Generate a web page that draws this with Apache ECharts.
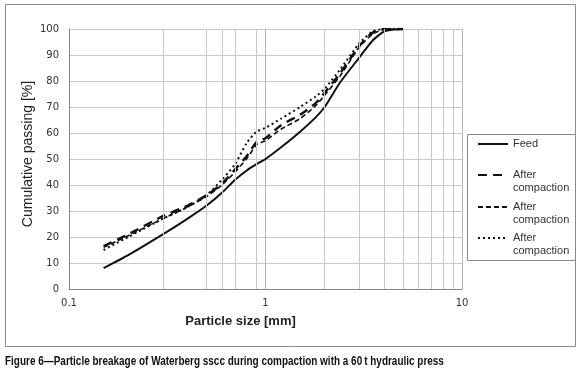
<!DOCTYPE html>
<html>
<head>
<meta charset="utf-8">
<script src="https://cdn.jsdelivr.net/npm/echarts@6/dist/echarts.min.js"></script>
<style>
    html, body { margin: 0; padding: 0; background: #fff; }
    #chart { width: 580px; height: 379px; }
</style>
</head>
<body>
<div id="chart"></div>
<script>
// particle size [mm]
const sizes = [0.15, 0.2, 0.3, 0.4, 0.5, 0.6, 0.7, 0.8, 0.9, 1, 1.2, 1.5, 1.8, 2, 2.4, 3, 3.5, 4, 4.5, 5];
// cumulative passing [%]
const feed = [8, 13, 21, 27, 32, 37, 42, 45.5, 48, 50, 54.5, 60.5, 66, 70, 79.5, 89, 95.5, 99, 99.8, 100];
const afterLong = [16.5, 21, 28, 32, 36, 40.5, 46, 51, 56.5, 58, 63, 67, 71.5, 75.5, 83, 93.5, 98.5, 100, 100, 100];
const afterShort = [16, 20.5, 27, 31.5, 35.5, 40, 45, 50, 55.5, 57, 61.5, 65.5, 70.5, 74.5, 82, 93, 98, 99.8, 100, 100];
const afterDot = [15, 20, 27, 31.5, 36, 42, 48, 56, 60.5, 62, 65.5, 70, 74, 77, 84.5, 94.5, 99, 100, 100, 100];

const minorGrid = [0.3, 0.5, 0.6, 0.7, 0.9, 2, 3, 4, 5, 6, 7, 8, 9];
const yTicks = { min: 0, max: 100, step: 10 };

const names = ['Feed', 'After compaction 1', 'After compaction 2', 'After compaction 3'];
const legendTops = [137, 155.5, 187.5, 218.5];

const caption = 'Figure 6\u2014Particle breakage of Waterberg sscc during compaction with a 60\u2009t hydraulic press';

const pairs = arr => sizes.map((s, i) => [s, arr[i]]);

const chart = echarts.init(document.getElementById('chart'));

const lineSeries = (name, values, width, dash) => ({
    name: name,
    type: 'line',
    data: pairs(values),
    symbol: 'none',
    smooth: 0.2,
    z: 3,
    itemStyle: { color: '#111' },
    lineStyle: { color: '#111', width: width, type: dash }
});

// one legend per entry so the two-line labels sit like the original box
const legends = names.map((n, i) => ({
    data: [n],
    left: 477,
    top: legendTops[i],
    orient: 'vertical',
    padding: 0,
    itemWidth: 30,
    itemHeight: 14,
    itemGap: 4,
    selectedMode: false,
    itemStyle: { opacity: 0 },
    formatter: name => (name === 'Feed' ? 'Feed' : '\nAfter\ncompaction'),
    textStyle: {
        fontFamily: 'Liberation Sans, Arial, sans-serif',
        fontSize: 11,
        color: '#333',
        lineHeight: i === 0 ? 14 : 13
    }
}));

chart.setOption({
    animation: false,
    legend: legends,
    graphic: [
        {
            type: 'rect',
            shape: { x: 5.5, y: 4.5, width: 570, height: 342 },
            style: { fill: 'none', stroke: '#8a8a8a', lineWidth: 1 },
            silent: true
        },
        {
            type: 'rect',
            shape: { x: 467.5, y: 134.5, width: 108, height: 126 },
            style: { fill: 'none', stroke: '#8a8a8a', lineWidth: 1 },
            silent: true
        },
        {
            type: 'text',
            x: 5,
            y: 362,
            scaleX: 0.83,
            silent: true,
            style: {
                text: caption,
                fill: '#111',
                font: 'bold 12px "Liberation Sans", Arial, sans-serif',
                verticalAlign: 'middle'
            }
        }
    ],
    grid: { left: 69, top: 29, right: 118, bottom: 90 },
    xAxis: {
        type: 'log',
        logBase: 10,
        min: 0.1,
        max: 10,
        name: 'Particle size [mm]',
        nameLocation: 'middle',
        nameGap: 26,
        nameMoveOverlap: false,
        nameTextStyle: {
            fontFamily: 'Liberation Sans, Arial, sans-serif',
            fontSize: 13,
            fontWeight: 'bold',
            color: '#222',
            padding: [0, 50, 0, 0]
        },
        axisLine: { show: true, lineStyle: { color: '#888' } },
        axisTick: { show: false },
        axisLabel: {
            margin: 9,
            fontFamily: 'DejaVu Sans, sans-serif',
            fontSize: 10,
            color: '#333',
            formatter: v => String(v)
        },
        splitLine: { show: true, lineStyle: { color: '#b5b5b5' } }
    },
    yAxis: {
        type: 'value',
        min: yTicks.min,
        max: yTicks.max,
        interval: yTicks.step,
        name: 'Cumulative passing [%]',
        nameLocation: 'middle',
        nameGap: 34,
        nameMoveOverlap: false,
        nameTextStyle: {
            fontFamily: 'Liberation Sans, Arial, sans-serif',
            fontSize: 14,
            color: '#222',
            padding: [0, 0, 0, 10]
        },
        axisLine: { show: true, lineStyle: { color: '#888' } },
        axisTick: { show: false },
        axisLabel: {
            margin: 10,
            fontFamily: 'DejaVu Sans, sans-serif',
            fontSize: 10,
            color: '#333'
        },
        splitLine: { show: true, lineStyle: { color: '#c8c8c8' } }
    },
    series: [
        {
            name: 'grid',
            type: 'line',
            data: [],
            z: 1,
            silent: true,
            markLine: {
                silent: true,
                symbol: ['none', 'none'],
                label: { show: false },
                emphasis: { disabled: true },
                lineStyle: { color: '#c8c8c8', type: 'solid', width: 1 },
                data: minorGrid.map(v => ({ xAxis: v }))
            }
        },
        lineSeries(names[0], feed, 2, 'solid'),
        lineSeries(names[1], afterLong, 2.5, [9, 6]),
        lineSeries(names[2], afterShort, 1.6, [5, 3]),
        lineSeries(names[3], afterDot, 2, [2, 3])
    ]
});
</script>
</body>
</html>
